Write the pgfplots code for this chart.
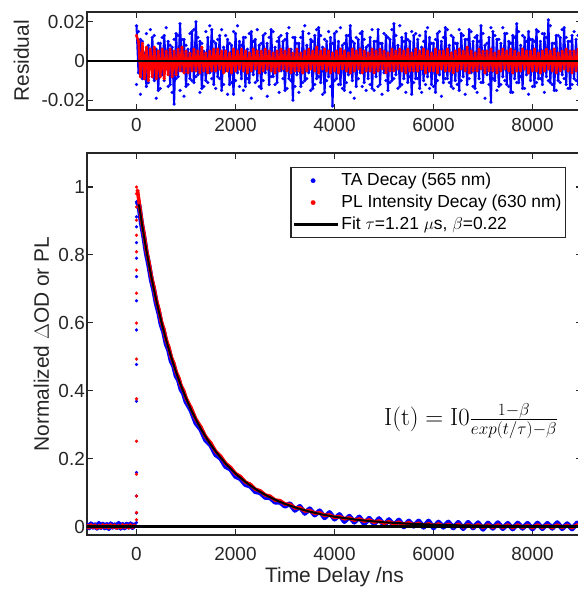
\documentclass[border=0pt]{standalone}
\usepackage[no-math]{fontspec}
\setmainfont{Liberation Sans}
\usepackage{pgfplots}
\usepackage{pgfplotstable}
\pgfplotsset{compat=1.18}
\usetikzlibrary{calc}
\definecolor{axgray}{gray}{0.15}

% residuals: t, TA (blue, b and scattered c), PL (red)
\pgfplotstableread{
t b r c
0 0.018 0.013 -0.012
40 -0.006 0.010 0.015
80 0.011 -0.008 -0.017
120 -0.009 0.009 0.010
160 0.004 -0.009 -0.009
200 -0.013 0.007 0.014
240 0.008 -0.010 -0.011
280 -0.003 0.006 0.016
320 0.012 -0.008 -0.008
360 -0.010 0.007 0.013
400 0.006 -0.009 -0.019
440 -0.015 0.005 0.009
480 0.009 -0.008 -0.014
520 -0.007 0.006 0.012
560 0.013 -0.009 -0.010
600 -0.004 0.005 0.017
640 0.010 -0.007 -0.013
680 -0.012 0.006 0.008
720 0.007 -0.008 -0.016
760 -0.022 0.005 0.011
800 0.014 -0.007 -0.009
840 -0.008 0.006 0.013
880 0.019 -0.005 -0.015
920 -0.005 0.007 0.011
960 0.011 -0.006 -0.018
1000 -0.013 0.005 0.008
1040 0.006 -0.006 -0.012
1080 -0.009 0.004 0.014
1120 0.015 -0.005 -0.010
1160 -0.011 0.006 0.016
1200 0.020 -0.005 -0.008
1240 -0.007 0.005 0.012
1280 0.010 -0.006 -0.016
1320 -0.014 0.007 0.009
1360 0.005 -0.005 -0.013
1400 -0.010 0.004 0.015
1440 0.012 -0.006 -0.011
1480 -0.006 0.005 0.018
1520 0.016 -0.005 -0.009
1560 -0.012 0.006 0.010
1600 0.009 -0.005 -0.014
1640 -0.008 0.006 0.011
1680 0.013 -0.004 -0.009
1720 -0.015 0.005 0.016
1760 0.007 -0.006 -0.012
1800 -0.005 0.005 0.013
1840 0.011 -0.005 -0.017
1880 -0.012 0.004 0.009
1920 0.008 -0.006 -0.011
1960 -0.017 0.006 0.015
2000 0.014 -0.005 -0.010
2040 -0.006 0.005 0.018
2080 0.010 -0.004 -0.013
2120 -0.009 0.006 0.008
2160 0.012 -0.005 -0.015
2200 -0.013 0.005 0.012
2240 0.006 -0.006 -0.009
2280 -0.011 0.004 0.014
2320 0.015 -0.005 -0.019
2360 -0.007 0.006 0.010
2400 0.011 -0.004 -0.011
2440 -0.010 0.005 0.016
2480 0.008 -0.006 -0.013
2520 -0.014 0.005 0.009
2560 0.013 -0.005 -0.010
2600 -0.006 0.006 0.014
2640 0.009 -0.004 -0.018
2680 -0.012 0.005 0.012
2720 0.016 -0.005 -0.008
2760 -0.008 0.004 0.015
2800 0.007 -0.006 -0.012
2840 -0.011 0.005 0.010
2880 0.012 -0.005 -0.016
2920 -0.005 0.006 0.013
2960 0.010 -0.004 -0.009
3000 -0.015 0.005 0.011
3040 0.014 -0.005 -0.014
3080 -0.009 0.006 0.017
3120 0.006 -0.006 -0.010
3160 -0.020 0.004 0.012
3200 0.012 -0.005 -0.013
3240 -0.007 0.006 0.009
3280 0.009 -0.005 -0.016
3320 -0.013 0.004 0.012
3360 0.015 -0.006 -0.011
3400 -0.010 0.005 0.018
3440 0.008 -0.005 -0.009
3480 -0.006 0.006 0.014
3520 0.011 -0.004 -0.015
3560 -0.014 0.005 0.010
3600 0.013 -0.005 -0.012
3640 -0.009 0.007 0.016
3680 0.017 -0.006 -0.008
3720 -0.011 0.005 0.013
3760 0.007 -0.004 -0.017
3800 -0.016 0.006 0.011
3840 0.010 -0.005 -0.010
3880 -0.008 0.005 0.015
3920 0.012 -0.006 -0.013
3960 -0.023 0.004 0.009
4000 0.014 -0.005 -0.010
4040 -0.009 0.005 0.015
4080 0.010 -0.006 -0.012
4120 -0.012 0.006 0.017
4160 0.008 -0.004 -0.014
4200 -0.015 0.005 0.009
4240 0.013 -0.005 -0.011
4280 -0.007 0.004 0.013
4320 0.018 -0.006 -0.016
4360 -0.010 0.006 0.010
4400 0.009 -0.005 -0.019
4440 -0.013 0.005 0.012
4480 0.011 -0.004 -0.009
4520 -0.006 0.006 0.014
4560 0.015 -0.006 -0.013
4600 -0.011 0.005 0.011
4640 0.007 -0.005 -0.015
4680 -0.009 0.004 0.008
4720 0.012 -0.005 -0.012
4760 -0.014 0.006 0.016
4800 0.010 -0.006 -0.015
4840 -0.008 0.005 0.010
4880 0.016 -0.005 -0.013
4920 -0.012 0.006 0.009
4960 0.009 -0.004 -0.017
5000 -0.006 0.005 0.014
5040 0.013 -0.006 -0.010
5080 -0.015 0.004 0.012
5120 0.011 -0.005 -0.011
5160 -0.010 0.006 0.016
5200 0.019 -0.005 -0.009
5240 -0.007 0.005 0.013
5280 0.008 -0.004 -0.014
5320 -0.013 0.006 0.018
5360 0.012 -0.005 -0.012
5400 -0.009 0.005 0.010
5440 0.014 -0.006 -0.016
5480 -0.011 0.006 0.011
5520 0.010 -0.005 -0.008
5560 -0.017 0.004 0.015
5600 0.013 -0.005 -0.011
5640 -0.009 0.006 0.014
5680 0.011 -0.005 -0.009
5720 -0.014 0.005 0.013
5760 0.007 -0.004 -0.016
5800 -0.010 0.006 0.010
5840 0.015 -0.006 -0.012
5880 -0.008 0.005 0.017
5920 0.012 -0.005 -0.014
5960 -0.012 0.004 0.009
6000 0.009 -0.005 -0.013
6040 -0.016 0.006 0.011
6080 0.014 -0.006 -0.010
6120 -0.007 0.005 0.015
6160 0.010 -0.004 -0.018
6200 -0.011 0.005 0.012
6240 0.017 -0.005 -0.009
6280 -0.009 0.006 0.016
6320 0.008 -0.005 -0.011
6360 -0.013 0.004 0.013
6400 0.012 -0.006 -0.014
6440 -0.010 0.005 0.009
6480 0.009 -0.005 -0.012
6520 -0.015 0.006 0.016
6560 0.014 -0.004 -0.010
6600 -0.008 0.005 0.013
6640 0.011 -0.005 -0.017
6680 -0.012 0.007 0.011
6720 0.016 -0.006 -0.009
6760 -0.006 0.005 0.015
6800 0.010 -0.005 -0.013
6840 -0.014 0.004 0.012
6880 0.013 -0.005 -0.016
6920 -0.009 0.006 0.010
6960 0.018 -0.004 -0.011
7000 -0.011 0.005 0.014
7040 0.008 -0.006 -0.019
7080 -0.007 0.005 0.009
7120 0.012 -0.005 -0.012
7160 -0.021 0.006 0.017
7200 0.015 -0.005 -0.009
7240 -0.010 0.004 0.013
7280 0.011 -0.006 -0.015
7320 -0.013 0.005 0.011
7360 0.009 -0.005 -0.012
7400 -0.008 0.006 0.017
7440 0.014 -0.004 -0.010
7480 -0.012 0.005 0.014
7520 0.010 -0.005 -0.013
7560 -0.016 0.006 0.009
7600 0.013 -0.006 -0.016
7640 -0.009 0.005 0.012
7680 0.019 -0.005 -0.011
7720 -0.011 0.004 0.015
7760 0.008 -0.005 -0.008
7800 -0.014 0.006 0.013
7840 0.012 -0.004 -0.014
7880 -0.007 0.005 0.010
7920 0.015 -0.006 -0.017
7960 -0.010 0.005 0.011
8000 0.011 -0.005 -0.013
8040 -0.013 0.006 0.010
8080 0.016 -0.005 -0.011
8120 -0.009 0.004 0.015
8160 0.010 -0.006 -0.009
8200 -0.012 0.005 0.014
8240 0.014 -0.005 -0.016
8280 -0.008 0.006 0.012
8320 0.021 -0.004 -0.010
8360 -0.011 0.005 0.018
8400 0.009 -0.005 -0.012
8440 -0.015 0.006 0.009
8480 0.013 -0.006 -0.015
8520 -0.010 0.004 0.013
8560 0.012 -0.005 -0.011
8600 -0.007 0.005 0.016
8640 0.017 -0.004 -0.009
8680 -0.012 0.006 0.012
8720 0.010 -0.005 -0.014
8760 -0.014 0.005 0.010
8800 0.013 -0.006 -0.012
8840 -0.009 0.005 0.015
8880 0.011 -0.005 -0.010
8920 -0.012 0.006 0.013
8960 0.015 -0.004 -0.016
9000 -0.010 0.005 0.011
}\restab

% normalized decays: t, TA (blue), PL (red)
\pgfplotstableread{
t b r
-1000 0.006 0.003
-960 -0.004 -0.003
-920 0.008 0.004
-880 -0.002 -0.002
-840 0.005 0.003
-800 -0.005 -0.004
-760 0.009 0.002
-720 -0.003 -0.003
-680 0.007 0.004
-640 -0.004 -0.002
-600 0.006 0.003
-560 -0.006 -0.003
-520 0.008 0.004
-480 -0.002 -0.002
-440 0.005 0.003
-400 -0.003 -0.004
-360 0.009 0.002
-320 -0.005 -0.003
-280 0.006 0.004
-240 -0.004 -0.002
-200 0.007 0.003
-160 -0.002 -0.003
-120 0.008 0.004
-80 -0.003 -0.002
-40 0.006 0.003
0 nan nan
20 0.955 0.990
50 0.945 0.958
100 0.893 0.903
150 0.852 0.862
200 0.804 0.814
250 0.769 0.779
300 0.726 0.736
350 0.696 0.706
400 0.657 0.667
450 0.630 0.640
500 0.594 0.605
550 0.573 0.582
600 0.538 0.550
650 0.520 0.529
700 0.488 0.500
750 0.473 0.482
800 0.444 0.456
850 0.431 0.439
900 0.404 0.415
950 0.392 0.401
1000 0.368 0.379
1100 0.343 0.350
1200 0.305 0.316
1300 0.286 0.293
1400 0.254 0.264
1500 0.240 0.246
1600 0.212 0.221
1700 0.201 0.207
1800 0.177 0.186
1900 0.169 0.174
2000 0.148 0.156
2100 0.141 0.147
2200 0.124 0.131
2300 0.119 0.124
2400 0.103 0.110
2500 0.100 0.105
2600 0.086 0.093
2700 0.085 0.089
2800 0.072 0.078
2900 0.072 0.076
3000 0.060 0.066
3100 0.067 0.065
3200 0.048 0.055
3300 0.059 0.055
3400 0.039 0.046
3500 0.052 0.047
3600 0.034 0.039
3700 0.046 0.040
3800 0.026 0.033
3900 0.041 0.034
4000 0.022 0.027
4100 0.035 0.029
4200 0.015 0.023
4300 0.030 0.025
4400 0.013 0.019
4500 0.028 0.022
4600 0.008 0.016
4700 0.024 0.019
4800 0.008 0.013
4900 0.023 0.016
5000 0.004 0.010
5100 0.020 0.014
5200 0.003 0.008
5300 0.019 0.012
5400 -0.001 0.006
5500 0.016 0.011
5600 0.001 0.005
5700 0.016 0.009
5800 -0.002 0.003
5900 0.016 0.008
6000 -0.004 0.002
6100 0.013 0.007
6200 -0.002 0.001
6300 0.013 0.006
6400 -0.004 0.000
6500 0.012 0.006
6600 -0.006 -0.001
6700 0.012 0.005
6800 -0.004 -0.001
6900 0.011 0.005
7000 -0.008 -0.002
7100 0.010 0.004
7200 -0.005 -0.002
7300 0.011 0.004
7400 -0.006 -0.002
7500 0.009 0.004
7600 -0.007 -0.003
7700 0.010 0.004
7800 -0.005 -0.002
7900 0.009 0.003
8000 -0.007 -0.003
8100 0.010 0.004
8200 -0.006 -0.002
8300 0.009 0.003
8400 -0.005 -0.003
8500 0.011 0.004
8600 -0.006 -0.002
8700 0.008 0.003
8800 -0.007 -0.003
8900 0.010 0.004
9000 -0.005 -0.002
}\maintab

\pgfplotsset{
  panel/.style={
    scale only axis, width=495bp,
    xmin=-1000, xmax=9000,
    scaled x ticks=false, scaled y ticks=false,
    clip marker paths=true,
    axis line style={line width=1.5bp, draw=axgray},
    tick style={line width=1.1bp, draw=axgray},
    tick align=inside, major tick length=6bp,
    xtick={0,2000,4000,6000,8000},
    xticklabels={0,2000,4000,6000,8000},
    tick label style={font=\fontsize{19}{22}\selectfont, text=axgray},
    yticklabel style={inner sep=2bp},
    label style={font=\fontsize{21}{24}\selectfont, text=axgray},
    unbounded coords=jump,
  },
  dots/.style={mark=*, mark size=1.6bp, mark options={line width=0.1bp}},
}

\begin{document}
\begin{tikzpicture}
\begin{axis}[panel, name=top, height=98bp,
    ymin=-0.025, ymax=0.025,
    ytick={-0.02,0,0.02}, yticklabels={-0.02,0,0.02},
    xticklabel style={yshift=-5bp},
    ylabel={Residual}, ylabel shift=7bp]
  \addplot[blue, line width=2bp, line join=round, dots] table[x=t, y=b] {\restab};
  \addplot[blue, only marks, dots] table[x=t, y=c] {\restab};
  \addplot[red, line width=2.4bp, line join=round, dots] table[x=t, y=r] {\restab};
  \addplot[black, line width=2.4bp] coordinates {(-1000,0) (9000,0)};
\end{axis}

\begin{axis}[panel, name=main,
    at={($(top.south west)+(0,-43bp)$)}, anchor=north west,
    height=382bp,
    ymin=-0.025, ymax=1.1,
    ytick={0,0.2,0.4,0.6,0.8,1}, yticklabels={0,0.2,0.4,0.6,0.8,1},
    xticklabel style={yshift=-9bp},
    xlabel={Time Delay /ns},
    ylabel={Normalized $\Delta$OD or PL}, ylabel shift=4bp,
    legend cell align=left,
    legend image code/.code={\draw[mark repeat=2, mark phase=2, #1]
      plot coordinates {(0bp,0bp) (19bp,0bp) (44bp,0bp)};},
    legend style={at={(0.968,0.963)}, anchor=north east,
      draw=axgray, line width=1.2bp, fill=white,
      font=\fontsize{17.5}{21}\selectfont, inner sep=2bp, row sep=0pt,
      nodes={inner sep=2.2bp, text height=13.5bp, text depth=4bp}},
  ]
  \addplot[blue, line width=5bp, line join=round, dots, mark size=2bp, forget plot] table[x=t, y=b] {\maintab};
  \addplot[blue, only marks, dots, forget plot] coordinates {
    (0,0.012) (0,0.04) (0,0.09) (0,0.159) (0,0.369) (0,0.477) (0,0.579)
    (0,0.665) (0,0.736) (0,0.79) (0,0.836) (0,0.883) (0,0.912) (0,0.956)};
  \addplot[red, line width=3.6bp, line join=round, dots, mark size=1.8bp, forget plot] table[x=t, y=r] {\maintab};
  \addplot[red, only marks, dots, forget plot] coordinates {
    (0,0.02) (0,0.041) (0,0.09) (0,0.154) (0,0.251) (0,0.376) (0,0.493)
    (0,0.599) (0,0.687) (0,0.755) (0,0.809) (0,0.858) (0,0.902) (0,0.941)
    (0,0.98) (0,1.0)};
  \addplot[black, line width=2bp, forget plot] coordinates {
    (50,0.9487) (100,0.9005) (150,0.8553) (200,0.8127) (250,0.7727)
    (300,0.7349) (350,0.6993) (400,0.6657) (450,0.6339) (500,0.6039)
    (600,0.5486) (700,0.4989) (800,0.4543) (900,0.4140) (1000,0.3777)
    (1100,0.3448) (1200,0.3150) (1300,0.2880) (1400,0.2635) (1500,0.2412)
    (1600,0.2208) (1800,0.1854) (2000,0.1559) (2200,0.1313) (2400,0.1107)
    (2600,0.0934) (2800,0.0788) (3000,0.0666) (3250,0.0540) (3500,0.0438)
    (3750,0.0355) (4000,0.0288) (4500,0.0190) (5000,0.0125) (5500,0.0083)
    (6000,0.0055) (6500,0.0036) (7000,0.0024) (8000,0.0011) (9000,0.0005)};
  \addplot[black, line width=2.2bp, forget plot] coordinates {(-1000,0) (9000,0)};

  \addlegendimage{only marks, mark=*, blue, mark size=2.3bp, mark options={line width=0.1bp}}
  \addlegendentry{TA Decay (565 nm)}
  \addlegendimage{only marks, mark=*, red, mark size=2.3bp, mark options={line width=0.1bp}}
  \addlegendentry{PL Intensity Decay (630 nm)}
  \addlegendimage{black, line width=2.2bp}
  \addlegendentry{Fit $\tau$=1.21 $\mu$s, $\beta$=0.22}

  \node[anchor=west, inner sep=0pt, font=\fontsize{25}{29}\selectfont]
    at (axis cs:5000,0.31)
    {$\mathrm{I(t)} = \mathrm{I0}\frac{1-\beta}{exp(t/\tau)-\beta}$};
\end{axis}

\pgfresetboundingbox
\path[use as bounding box]
  ($(main.south west)+(-87bp,-55bp)$) rectangle ($(top.north west)+(491bp,12bp)$);
\end{tikzpicture}
\end{document}
